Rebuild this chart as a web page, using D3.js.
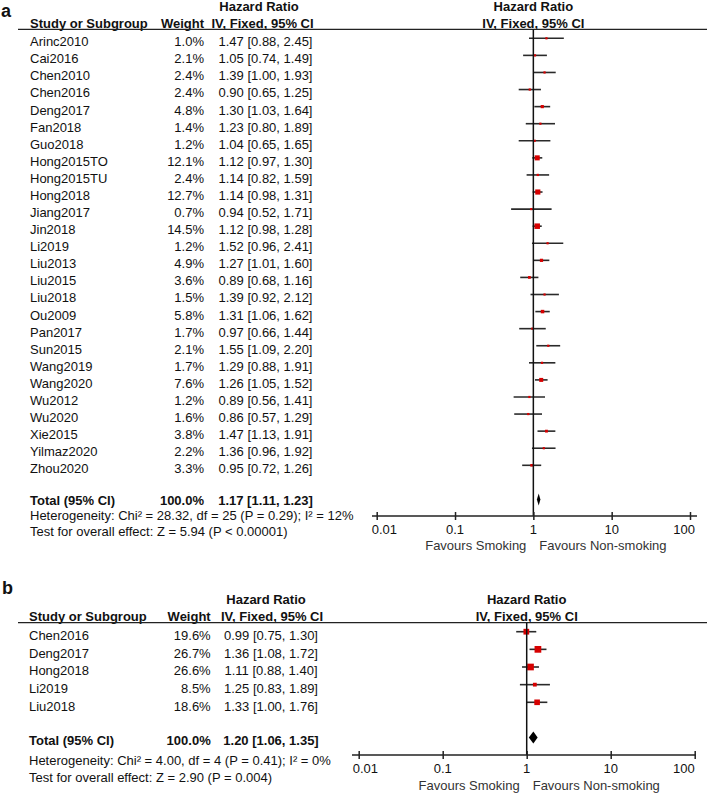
<!DOCTYPE html>
<html>
<head>
<meta charset="utf-8">
<script src="https://cdn.jsdelivr.net/npm/d3@7"></script>
<style>
  html, body { margin: 0; padding: 0; background: #fff; }
  svg { display: block; }
  text { font-family: "Liberation Sans", Arial, sans-serif; font-size: 13px; fill: #111; }
  .b { font-weight: bold; }
</style>
</head>
<body>
<svg id="chart" width="709" height="794"></svg>
<script>
// ---------- DATA ----------
const studiesA = ["Arinc2010","Cai2016","Chen2010","Chen2016","Deng2017","Fan2018","Guo2018","Hong2015TO","Hong2015TU","Hong2018","Jiang2017","Jin2018","Li2019","Liu2013","Liu2015","Liu2018","Ou2009","Pan2017","Sun2015","Wang2019","Wang2020","Wu2012","Wu2020","Xie2015","Yilmaz2020","Zhou2020"];
const weightsA = [1.0,2.1,2.4,2.4,4.8,1.4,1.2,12.1,2.4,12.7,0.7,14.5,1.2,4.9,3.6,1.5,5.8,1.7,2.1,1.7,7.6,1.2,1.6,3.8,2.2,3.3];
const hrA   = [1.47,1.05,1.39,0.90,1.30,1.23,1.04,1.12,1.14,1.14,0.94,1.12,1.52,1.27,0.89,1.39,1.31,0.97,1.55,1.29,1.26,0.89,0.86,1.47,1.36,0.95];
const lowA  = [0.88,0.74,1.00,0.65,1.03,0.80,0.65,0.97,0.82,0.98,0.52,0.98,0.96,1.01,0.68,0.92,1.06,0.66,1.09,0.88,1.05,0.56,0.57,1.13,0.96,0.72];
const highA = [2.45,1.49,1.93,1.25,1.64,1.89,1.65,1.30,1.59,1.31,1.71,1.28,2.41,1.60,1.16,2.12,1.62,1.44,2.20,1.91,1.52,1.41,1.29,1.91,1.92,1.26];
const totalA = {weight: 100.0, hr: 1.17, low: 1.11, high: 1.23};
const hetA = "Heterogeneity: Chi² = 28.32, df = 25 (P = 0.29); I² = 12%";
const testA = "Test for overall effect: Z = 5.94 (P < 0.00001)";

const studiesB = ["Chen2016","Deng2017","Hong2018","Li2019","Liu2018"];
const weightsB = [19.6,26.7,26.6,8.5,18.6];
const hrB   = [0.99,1.36,1.11,1.25,1.33];
const lowB  = [0.75,1.08,0.88,0.83,1.00];
const highB = [1.30,1.72,1.40,1.89,1.76];
const totalB = {weight: 100.0, hr: 1.20, low: 1.06, high: 1.35};
const hetB = "Heterogeneity: Chi² = 4.00, df = 4 (P = 0.41); I² = 0%";
const testB = "Test for overall effect: Z = 2.90 (P = 0.004)";

const tickValues = [0.01, 0.1, 1, 10, 100];
const tickLabels = ["0.01", "0.1", "1", "10", "100"];
const favLeft = "Favours Smoking";
const favRight = "Favours Non-smoking";

// ---------- DRAW ----------
const svg = d3.select("#chart");
const fmt2 = d3.format(".2f");
const fmtW = w => d3.format(".1f")(w) + "%";
const hrText = (h, l, u) => `${fmt2(h)} [${fmt2(l)}, ${fmt2(u)}]`;

function panel(cfg, d) {
  const g = svg.append("g");
  const n = d.studies.length;
  const x = d3.scaleLog().domain([0.01, 100]).range([cfg.x001, cfg.x100]);
  const y = d3.scaleLinear().domain([0, 1]).range([cfg.row0, cfg.row0 + cfg.rowH]);
  const off = cfg.textOff;
  const side = w => Math.max(2.2, cfg.sq * Math.sqrt(w));

  // panel letter
  g.append("text").attr("x", cfg.letterX).attr("y", cfg.letterY)
    .attr("class", "b").style("font-size", "18px").text(cfg.letter);

  // headers
  g.append("text").attr("class", "b").attr("x", cfg.hrHeadX).attr("y", cfg.head1Y)
    .attr("dy", "0.35em").attr("text-anchor", "middle").text("Hazard Ratio");
  g.append("text").attr("class", "b").attr("x", cfg.ivHeadX).attr("y", cfg.head2Y)
    .attr("dy", "0.35em").attr("text-anchor", "middle").text("IV, Fixed, 95% CI");
  g.append("text").attr("class", "b").attr("x", cfg.studyX).attr("y", cfg.head2Y)
    .attr("dy", "0.35em").text("Study or Subgroup");
  g.append("text").attr("class", "b").attr("x", cfg.weightX).attr("y", cfg.head2Y)
    .attr("dy", "0.35em").attr("text-anchor", "end").text("Weight");
  g.append("text").attr("class", "b").attr("x", x(1)).attr("y", cfg.head1Y)
    .attr("dy", "0.35em").attr("text-anchor", "middle").text("Hazard Ratio");
  g.append("text").attr("class", "b").attr("x", x(1)).attr("y", cfg.head2Y)
    .attr("dy", "0.35em").attr("text-anchor", "middle").text("IV, Fixed, 95% CI");

  g.append("line").attr("x1", 18).attr("x2", 707).attr("y1", cfg.lineY).attr("y2", cfg.lineY)
    .attr("stroke", "#222").attr("stroke-width", 1.3);

  // rows text
  const rows = g.selectAll("g.row").data(d3.range(n)).join("g").attr("class", "row");
  rows.append("text").attr("x", cfg.studyX).attr("y", i => y(i) + off).attr("dy", "0.35em")
    .text(i => d.studies[i]);
  rows.append("text").attr("x", cfg.weightX).attr("y", i => y(i) + off).attr("dy", "0.35em")
    .attr("text-anchor", "end").text(i => fmtW(d.weights[i]));
  rows.append("text").attr("x", cfg.hrX).attr("y", i => y(i) + off).attr("dy", "0.35em")
    .attr("text-anchor", "middle").text(i => hrText(d.hr[i], d.low[i], d.high[i]));

  // totals text
  g.append("text").attr("class", "b").attr("x", cfg.studyX).attr("y", cfg.totalY).attr("dy", "0.35em").text("Total (95% CI)");
  g.append("text").attr("class", "b").attr("x", cfg.weightX).attr("y", cfg.totalY).attr("dy", "0.35em")
    .attr("text-anchor", "end").text(fmtW(d.total.weight));
  g.append("text").attr("class", "b").attr("x", cfg.hrX).attr("y", cfg.totalY).attr("dy", "0.35em")
    .attr("text-anchor", "middle").text(hrText(d.total.hr, d.total.low, d.total.high));
  g.append("text").attr("x", cfg.studyX).attr("y", cfg.hetY).attr("dy", "0.35em").text(d.het);
  g.append("text").attr("x", cfg.studyX).attr("y", cfg.testY).attr("dy", "0.35em").text(d.test);

  // vertical null line
  g.append("line").attr("x1", x(1)).attr("x2", x(1)).attr("y1", cfg.lineY).attr("y2", cfg.axisY)
    .attr("stroke", "#111").attr("stroke-width", 1.5);

  // CI lines
  rows.append("line")
    .attr("x1", i => x(d.low[i])).attr("x2", i => x(d.high[i]))
    .attr("y1", i => y(i)).attr("y2", i => y(i))
    .attr("stroke", "#2a2a2a").attr("stroke-width", 1.6);
  // squares
  rows.append("rect")
    .attr("width", i => side(d.weights[i]))
    .attr("height", i => side(d.weights[i]))
    .attr("x", i => x(d.hr[i]) - side(d.weights[i]) / 2)
    .attr("y", i => y(i) - side(d.weights[i]) / 2)
    .attr("fill", "#d60000");

  // diamond
  const dy = y(n + 1);
  g.append("path")
    .attr("d", `M${x(d.total.low)},${dy} L${x(d.total.hr)},${dy - 6} L${x(d.total.high)},${dy} L${x(d.total.hr)},${dy + 6} Z`)
    .attr("fill", "#000");

  // axis
  g.append("line").attr("x1", cfg.axisL).attr("x2", cfg.axisR).attr("y1", cfg.axisY).attr("y2", cfg.axisY)
    .attr("stroke", "#222").attr("stroke-width", 1.5);
  const ax = g.append("g").attr("transform", `translate(0,${cfg.axisY})`)
    .call(d3.axisBottom(x).tickValues(tickValues).tickSize(4).tickFormat(""));
  ax.select(".domain").remove();
  ax.selectAll(".tick line").attr("y1", -4).attr("y2", 4).attr("stroke", "#222").attr("stroke-width", 1.5);
  tickValues.forEach((v, k) => {
    let anchor = "middle", tx = x(v);
    if (k === 0) { anchor = "start"; tx = x(v) + cfg.lblShiftL; }
    if (k === tickValues.length - 1) { anchor = "end"; tx = x(v) + cfg.lblShiftR; }
    g.append("text").attr("x", tx).attr("y", cfg.tickLblY).attr("dy", "0.35em")
      .attr("text-anchor", anchor).text(tickLabels[k]);
  });
  g.append("text").attr("x", x(1) - 7).attr("y", cfg.favY).attr("dy", "0.35em")
    .attr("text-anchor", "end").style("fill", "#333").text(favLeft);
  g.append("text").attr("x", x(1) + 6).attr("y", cfg.favY).attr("dy", "0.35em")
    .attr("text-anchor", "start").style("fill", "#333").text(favRight);
}

panel({
  letter: "a", letterX: 1, letterY: 17,
  head1Y: 6.5, head2Y: 23, lineY: 29.3,
  studyX: 30, weightX: 204, hrX: 265.5, hrHeadX: 259, ivHeadX: 262.5,
  row0: 38.3, rowH: 17.08, textOff: 3.4,
  totalY: 500, hetY: 515, testY: 531,
  x001: 376.7, x100: 690, axisL: 372, axisR: 697, axisY: 516,
  tickLblY: 529.5, favY: 545.5, lblShiftL: -5, lblShiftR: 5, sq: 1.45
}, {studies: studiesA, weights: weightsA, hr: hrA, low: lowA, high: highA,
    total: totalA, het: hetA, test: testA});

panel({
  letter: "b", letterX: 2, letterY: 594,
  head1Y: 599, head2Y: 616.5, lineY: 622.7,
  studyX: 29, weightX: 210.7, hrX: 271, hrHeadX: 266, ivHeadX: 272,
  row0: 631.7, rowH: 17.65, textOff: 3.7,
  totalY: 740.7, hetY: 760, testY: 777.7,
  x001: 358.7, x100: 694.7, axisL: 352, axisR: 696, axisY: 755,
  tickLblY: 768.5, favY: 785, lblShiftL: -6, lblShiftR: 0, sq: 1.3
}, {studies: studiesB, weights: weightsB, hr: hrB, low: lowB, high: highB,
    total: totalB, het: hetB, test: testB});
</script>
</body>
</html>
